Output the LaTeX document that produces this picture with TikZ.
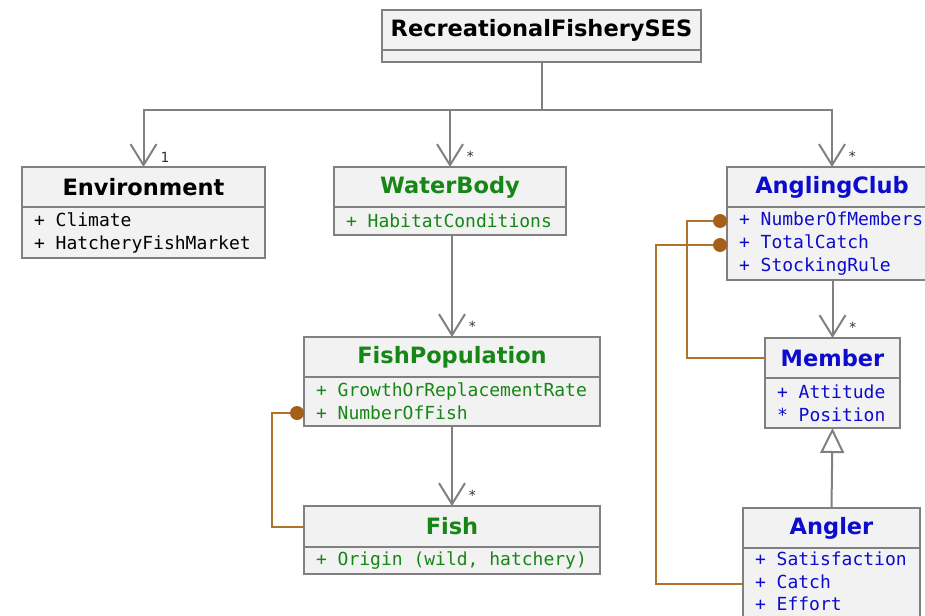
\documentclass[tikz,border=0pt]{standalone}
\usepackage{fontspec}
\usetikzlibrary{arrows.meta}
\newfontfamily\hdfont{DejaVu Sans}
\newfontfamily\attfont{DejaVu Sans Mono}
\newcommand\msp{\hspace*{0.6021em}}
\definecolor{boxfill}{RGB}{242,242,242}
\definecolor{boxline}{RGB}{128,128,128}
\definecolor{envgreen}{RGB}{22,135,22}
\definecolor{clubblue}{RGB}{12,12,205}
\definecolor{linkbrown}{RGB}{176,114,42}
\definecolor{balldark}{RGB}{165,95,25}

\begin{document}
\begin{tikzpicture}[x=1pt,y=-1pt,
  classhead/.style={draw=boxline, fill=boxfill, line width=2pt, inner sep=0pt,
    outer sep=0pt, font=\hdfont\bfseries\fontsize{22.5}{26}\selectfont},
  classattr/.style={draw=boxline, fill=boxfill, line width=2pt, inner xsep=12pt,
    inner ysep=0pt, outer sep=0pt, anchor=north, align=left,
    font=\attfont\fontsize{18}{23}\selectfont},
  mult/.style={anchor=base west, inner sep=0pt, text=black!80,
    font=\attfont\fontsize{14}{14}\selectfont},
  assoc/.style={draw=boxline, line width=2pt},
  navarrow/.style={assoc, -{Straight Barb[length=21pt,width=26pt]}},
  genarrow/.style={assoc, -{Triangle[length=25pt,width=24pt,fill=white]}},
  link/.style={draw=linkbrown, line width=2pt},
  ball/.style={circle, fill=balldark, minimum size=14pt, inner sep=0pt, outer sep=0pt}
]
\useasboundingbox (0,0) rectangle (925,615);

% root class
\node[classhead, minimum width=319, minimum height=40] (ses) at (541.5,30) {RecreationalFisherySES};
\node[classattr, minimum width=319, minimum height=12] (ses-a) at (ses.south) {};

% Environment
\node[classhead, minimum width=243, minimum height=40] (env) at (143.5,187) {Environment};
\node[classattr, minimum width=243, minimum height=51, text width=219] (env-a) at (env.south)
  {+\msp Climate\\+\msp HatcheryFishMarket};

% WaterBody
\node[classhead, text=envgreen, minimum width=232, minimum height=40] (wb) at (450,187) {WaterBody};
\node[classattr, text=envgreen, minimum width=232, minimum height=28, text width=208] (wb-a) at (wb.south)
  {+\msp HabitatConditions};

% FishPopulation
\node[classhead, text=envgreen, minimum width=296, minimum height=40] (fp) at (452,357) {FishPopulation};
\node[classattr, text=envgreen, minimum width=296, minimum height=49, text width=272] (fp-a) at (fp.south)
  {+\msp GrowthOrReplacementRate\\+\msp NumberOfFish};

% Fish
\node[classhead, text=envgreen, minimum width=296, minimum height=41] (fish) at (452,526.5) {Fish};
\node[classattr, text=envgreen, minimum width=296, minimum height=27, text width=272] (fish-a) at (fish.south)
  {+\msp Origin\msp(wild,\msp hatchery)};

% AnglingClub
\node[classhead, text=clubblue, minimum width=210, minimum height=40] (club) at (832,187) {AnglingClub};
\node[classattr, text=clubblue, minimum width=210, minimum height=73, text width=186] (club-a) at (club.south)
  {+\msp NumberOfMembers\\+\msp TotalCatch\\+\msp StockingRule};

% Member
\node[classhead, text=clubblue, minimum width=135, minimum height=40] (mem) at (832.5,358) {Member};
\node[classattr, text=clubblue, minimum width=135, minimum height=50, text width=111] (mem-a) at (mem.south)
  {+\msp Attitude\\{*}\msp Position};

% Angler (its lower edge runs past the bottom of the page)
\node[classhead, text=clubblue, minimum width=177, minimum height=40] (ang) at (831.5,528) {Angler};
\node[classattr, text=clubblue, minimum width=177, minimum height=73, text width=153,
  font=\attfont\fontsize{18}{22.5}\selectfont] (ang-a) at (ang.south)
  {+\msp Satisfaction\\+\msp Catch\\+\msp Effort\rule[-6pt]{0pt}{6pt}};

% composition tree from the root
\coordinate (hub) at (ses-a.south |- 0,110);
\draw[assoc] (ses-a.south) -- (hub);
\draw[navarrow] (hub) -| (env.north);
\draw[navarrow] (hub) -| (wb.north);
\draw[navarrow] (hub) -| (club.north);
\draw[navarrow] (wb-a.south -| fp.north) -- (fp.north);
\draw[navarrow] (fp-a.south) -- (fish.north);
\draw[navarrow] (club-a.south -| mem.north) -- (mem.north);
\draw[genarrow] (ang.north) -- (mem-a.south);

% multiplicities
\node[mult] (m-env) at ([xshift=17pt,yshift=5pt]env.north) {1};
\node[mult] (m-wb) at ([xshift=16pt,yshift=6pt]wb.north) {*};
\node[mult] (m-club) at ([xshift=16pt,yshift=6pt]club.north) {*};
\node[mult] (m-fp) at ([xshift=16pt,yshift=6pt]fp.north) {*};
\node[mult] (m-fish) at ([xshift=16pt,yshift=6pt]fish.north) {*};
\node[mult] (m-mem) at ([xshift=16pt,yshift=6pt]mem.north) {*};

% attribute links, ending in a filled ball at the owning attribute
\coordinate (p-fp) at ([xshift=-7pt]fp-a.west |- 0,413);
\coordinate (p-club1) at ([xshift=-7pt]club-a.west |- 0,221);
\coordinate (p-club2) at ([xshift=-7pt]club-a.west |- 0,245);
\draw[link] (p-fp) -- ++(-25,0) |- (fish.west);
\draw[link] (p-club1) -- ++(-33,0) |- (mem.west);
\draw[link] (p-club2) -- ++(-64,0) |- (ang-a.west |- 0,584);
\node[ball] (b-fp) at (p-fp) {};
\node[ball] (b-club1) at (p-club1) {};
\node[ball] (b-club2) at (p-club2) {};
\end{tikzpicture}
\end{document}
